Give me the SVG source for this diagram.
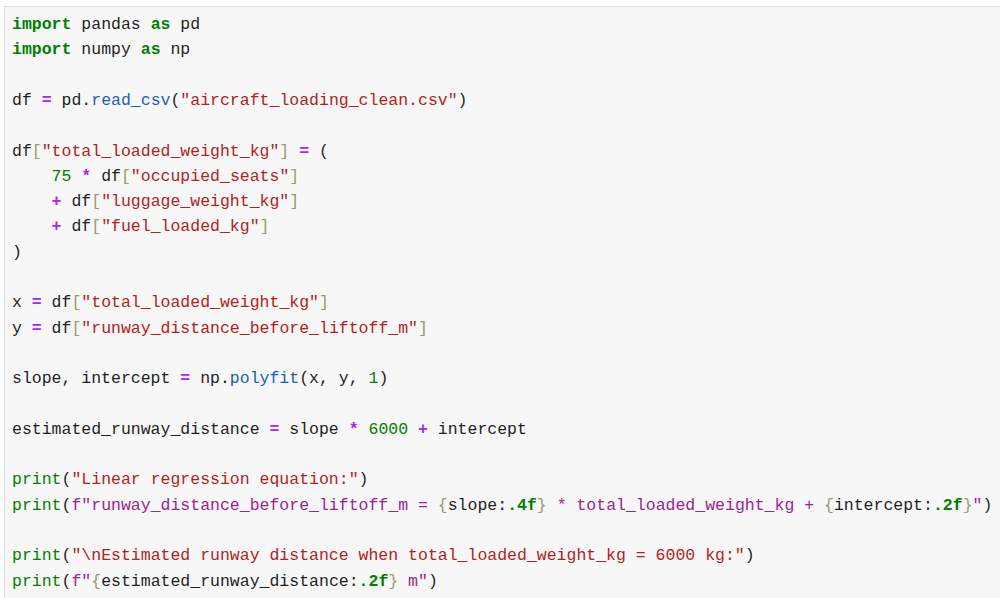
<svg xmlns="http://www.w3.org/2000/svg" width="1000" height="598" viewBox="0 0 1000 598">
<style>
text{font-family:"Liberation Mono","DejaVu Sans Mono",monospace;font-size:16.5px;fill:#1f1f1f;white-space:pre}
.k{fill:#008000;font-weight:bold}
.b{fill:#008000}
.s{fill:#b22222}
.f{fill:#9b2393}
.o{fill:#aa22ff;font-weight:bold}
.fn{fill:#1a5fb4}
.br{fill:#9a9a70}
.n{fill:#008000}
.p{fill:#008000;font-weight:bold}
</style>
<rect x="0" y="0" width="1000" height="598" fill="#ffffff"/>
<rect x="4.5" y="6.5" width="1000" height="600" fill="#f7f7f7" stroke="#e0e0e0"/>
<g id="code" xml:space="preserve">
<text x="12" y="29"><tspan class="k">import</tspan> pandas <tspan class="k">as</tspan> pd</text>
<text x="12" y="54.3"><tspan class="k">import</tspan> numpy <tspan class="k">as</tspan> np</text>
<text x="12" y="105"><tspan>df </tspan><tspan class="o">=</tspan> pd.<tspan class="fn">read_csv</tspan>(<tspan class="s">"aircraft_loading_clean.csv"</tspan>)</text>
<text x="12" y="155.5">df<tspan class="br">[</tspan><tspan class="s">"total_loaded_weight_kg"</tspan><tspan class="br">]</tspan> <tspan class="o">=</tspan> (</text>
<text x="12" y="180.8">    <tspan class="n">75</tspan> <tspan class="o">*</tspan> df<tspan class="br">[</tspan><tspan class="s">"occupied_seats"</tspan><tspan class="br">]</tspan></text>
<text x="12" y="206.1">    <tspan class="o">+</tspan> df<tspan class="br">[</tspan><tspan class="s">"luggage_weight_kg"</tspan><tspan class="br">]</tspan></text>
<text x="12" y="231.4">    <tspan class="o">+</tspan> df<tspan class="br">[</tspan><tspan class="s">"fuel_loaded_kg"</tspan><tspan class="br">]</tspan></text>
<text x="12" y="256.7">)</text>
<text x="12" y="307.3">x <tspan class="o">=</tspan> df<tspan class="br">[</tspan><tspan class="s">"total_loaded_weight_kg"</tspan><tspan class="br">]</tspan></text>
<text x="12" y="332.6">y <tspan class="o">=</tspan> df<tspan class="br">[</tspan><tspan class="s">"runway_distance_before_liftoff_m"</tspan><tspan class="br">]</tspan></text>
<text x="12" y="383.2">slope, intercept <tspan class="o">=</tspan> np.<tspan class="fn">polyfit</tspan>(x, y, <tspan class="n">1</tspan>)</text>
<text x="12" y="433.8">estimated_runway_distance <tspan class="o">=</tspan> slope <tspan class="o">*</tspan> <tspan class="n">6000</tspan> <tspan class="o">+</tspan> intercept</text>
<text x="12" y="484.4"><tspan class="b">print</tspan>(<tspan class="s">"Linear regression equation:"</tspan>)</text>
<text x="12" y="509.7"><tspan class="b">print</tspan>(<tspan class="f">f"runway_distance_before_liftoff_m = </tspan><tspan class="br">{</tspan>slope:<tspan class="p">.4f</tspan><tspan class="br">}</tspan><tspan class="f"> * total_loaded_weight_kg + </tspan><tspan class="br">{</tspan>intercept:<tspan class="p">.2f</tspan><tspan class="br">}</tspan><tspan class="f">"</tspan>)</text>
<text x="12" y="560.3"><tspan class="b">print</tspan>(<tspan class="s">"\nEstimated runway distance when total_loaded_weight_kg = 6000 kg:"</tspan>)</text>
<text x="12" y="585.6"><tspan class="b">print</tspan>(<tspan class="f">f"</tspan><tspan class="br">{</tspan>estimated_runway_distance:<tspan class="p">.2f</tspan><tspan class="br">}</tspan><tspan class="f"> m"</tspan>)</text>
</g>
</svg>
